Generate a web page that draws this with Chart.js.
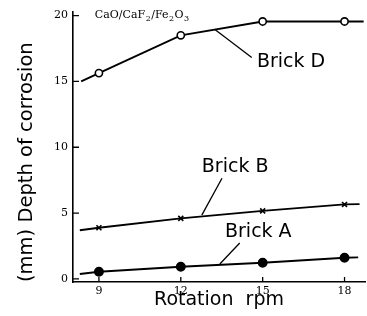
<!DOCTYPE html>
<html>
<head>
<meta charset="utf-8">
<script src="https://cdn.jsdelivr.net/npm/chart.js@4.4.0/dist/chart.umd.min.js"></script>
<style>
  html, body { margin: 0; padding: 0; background: #fff; }
  #wrap { width: 367px; height: 316px; }
</style>
</head>
<body>
<div id="wrap"><canvas id="corrosion" width="367" height="316"></canvas></div>
<script>
// rotation speed (rpm) and depth of corrosion (mm)
const rpm = [9, 12, 15, 18];
const brickA = [0.55, 0.93, 1.23, 1.61];
const brickB = [3.89, 4.6, 5.17, 5.66];
const brickD = [15.63, 18.5, 19.55, 19.55];

// where the drawn lines start and stop (A, B, D)
const lineFromRpm = [8.3, 8.3, 8.35];
const lineFrom = [0.38, 3.7, 15.0];
const lineToRpm = [18.5, 18.55, 18.7];
const lineTo = [1.64, 5.68, 19.55];

const xTicks = [9, 12, 15, 18];
const yTicks = [0, 5, 10, 15, 20];

function series(i, values) {
    const pts = [{x: lineFromRpm[i], y: lineFrom[i]}];
    rpm.forEach((r, k) => pts.push({x: r, y: values[k]}));
    pts.push({x: lineToRpm[i], y: lineTo[i]});
    return pts;
}

function radii(r) {
    return [0].concat(rpm.map(() => r), [0]);
}

const sans = 'DejaVu Sans';
const serif = 'DejaVu Serif';

// labels with leader lines, in data units
const notes = [
    {text: 'Brick D', x: 14.79, y: 16.44, from: [13.25, 18.94], to: [14.6, 16.82]},
    {text: 'Brick B', x: 12.77, y: 8.48, from: [13.51, 7.65], to: [12.77, 4.85]},
    {text: 'Brick A', x: 13.62, y: 3.56, from: [14.16, 2.73], to: [13.43, 1.14]}
];

const notesPlugin = {
    id: 'notes',
    afterDatasetsDraw(chart) {
        const c = chart.ctx;
        const xs = chart.scales.x, ys = chart.scales.y;
        c.save();
        c.fillStyle = '#000';
        c.strokeStyle = '#000';
        c.lineWidth = 1.3;
        c.textBaseline = 'middle';
        c.textAlign = 'left';
        c.font = '19px "' + sans + '"';
        notes.forEach(n => {
            c.fillText(n.text, xs.getPixelForValue(n.x), ys.getPixelForValue(n.y));
            c.beginPath();
            c.moveTo(xs.getPixelForValue(n.from[0]), ys.getPixelForValue(n.from[1]));
            c.lineTo(xs.getPixelForValue(n.to[0]), ys.getPixelForValue(n.to[1]));
            c.stroke();
        });
        // slag composition, with subscripts
        const parts = [['CaO/CaF', false], ['2', true], ['/Fe', false], ['2', true], ['O', false], ['3', true]];
        let px = xs.getPixelForValue(8.85);
        const py = ys.getPixelForValue(20.0);
        parts.forEach(p => {
            c.font = p[1] ? '8px "' + serif + '"' : '11px "' + serif + '"';
            c.fillText(p[0], px, p[1] ? py + 3 : py);
            px += c.measureText(p[0]).width + 0.5;
        });

        // tick marks pointing into the plot
        const area = chart.chartArea;
        c.lineWidth = 1.3;
        c.beginPath();
        xTicks.forEach(v => {
            const x = xs.getPixelForValue(v);
            c.moveTo(x, area.bottom);
            c.lineTo(x, area.bottom - 5);
        });
        yTicks.forEach(v => {
            const y = ys.getPixelForValue(v);
            c.moveTo(area.left, y);
            c.lineTo(area.left + 6, y);
        });
        c.stroke();
        c.restore();
    }
};

const ctx = document.getElementById('corrosion');

new Chart(ctx, {
    type: 'scatter',
    data: {
        datasets: [
            {
                label: 'Brick A',
                data: series(0, brickA),
                showLine: true,
                borderColor: '#000',
                borderWidth: 1.9,
                pointRadius: radii(4),
                pointStyle: 'circle',
                pointBackgroundColor: '#000',
                pointBorderColor: '#000'
            },
            {
                label: 'Brick B',
                data: series(1, brickB),
                showLine: true,
                borderColor: '#000',
                borderWidth: 1.9,
                pointRadius: radii(3.5),
                pointStyle: 'crossRot',
                pointBorderWidth: 1.6,
                pointBorderColor: '#000'
            },
            {
                label: 'Brick D',
                data: series(2, brickD),
                showLine: true,
                borderColor: '#000',
                borderWidth: 1.9,
                pointRadius: radii(3.6),
                pointStyle: 'circle',
                pointBorderWidth: 1.6,
                pointBackgroundColor: '#fff',
                pointBorderColor: '#000'
            }
        ]
    },
    options: {
        responsive: false,
        animation: false,
        devicePixelRatio: 1,
        layout: {
            padding: {top: 11, right: 2, left: 0, bottom: 0}
        },
        plugins: {
            legend: { display: false },
            tooltip: { enabled: false }
        },
        scales: {
            x: {
                type: 'linear',
                min: 8.05,
                max: 18.75,
                afterBuildTicks: (scale) => { scale.ticks = xTicks.map(v => ({value: v})); },
                afterFit: (scale) => { scale.height = 34; },
                border: { color: '#000', width: 1.6 },
                grid: { drawOnChartArea: false, drawTicks: false },
                ticks: {
                    padding: 2.5,
                    color: '#000',
                    font: { family: serif, size: 11 }
                },
                title: {
                    display: true,
                    text: 'Rotation  rpm',
                    color: '#000',
                    padding: {top: 0, bottom: 5},
                    font: { family: sans, size: 19 }
                }
            },
            y: {
                type: 'linear',
                min: -0.23,
                max: 20.3,
                afterBuildTicks: (scale) => { scale.ticks = yTicks.map(v => ({value: v})); },
                afterFit: (scale) => { scale.width = 73; },
                border: { color: '#000', width: 1.6 },
                grid: { drawOnChartArea: false, drawTicks: false },
                ticks: {
                    padding: 5,
                    color: '#000',
                    font: { family: serif, size: 11 }
                },
                title: {
                    display: true,
                    text: '(mm) Depth of corrosion',
                    align: 'start',
                    color: '#000',
                    padding: {top: 15, bottom: 0},
                    font: { family: sans, size: 19.5 }
                }
            }
        }
    },
    plugins: [notesPlugin]
});
</script>
</body>
</html>
